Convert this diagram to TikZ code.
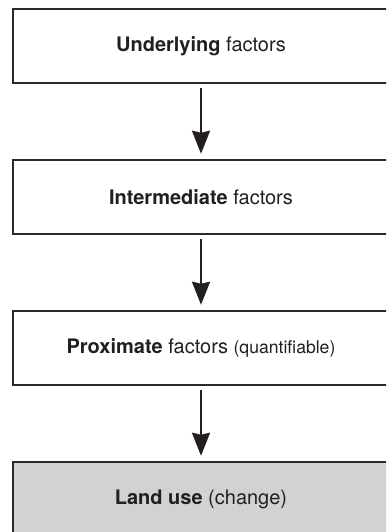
\documentclass[tikz,border=0pt]{standalone}
\usepackage{fontspec}
\setmainfont{TeX Gyre Heros}
\usetikzlibrary{arrows.meta}
\definecolor{boxline}{HTML}{2A2A2A}
\definecolor{landgray}{HTML}{D1D2D4}
\definecolor{inktext}{HTML}{231F20}
\begin{document}
\begin{tikzpicture}[x=1pt,y=-1pt,
  factorbox/.style={draw=boxline, line width=1.5pt, minimum width=376pt, minimum height=74pt, inner sep=0pt, font=\fontsize{20}{24}\selectfont, text=inktext},
  flowarrow/.style={line width=2pt, inktext, -{Triangle[width=18pt,length=23pt,inset=2pt]}, shorten <=4.5pt, shorten >=5.5pt}]
\useasboundingbox (0,0) rectangle (386,532);
\clip (0,0) rectangle (386,532);
\fill[white] (0,0) rectangle (386,532);
\node[factorbox] (under) at (201,46) {\textbf{Underlying} factors};
\node[factorbox] (inter) at (201,197) {\textbf{Intermediate} factors};
\node[factorbox] (prox) at (201,348) {\textbf{Proximate} factors {\fontsize{17.6}{20}\selectfont(quantifiable)}};
\node[factorbox, fill=landgray] (land) at (201,499) {\textbf{Land use} (change)};
\draw[flowarrow] (under) -- (inter);
\draw[flowarrow] (inter) -- (prox);
\draw[flowarrow] (prox) -- (land);
\end{tikzpicture}
\end{document}
